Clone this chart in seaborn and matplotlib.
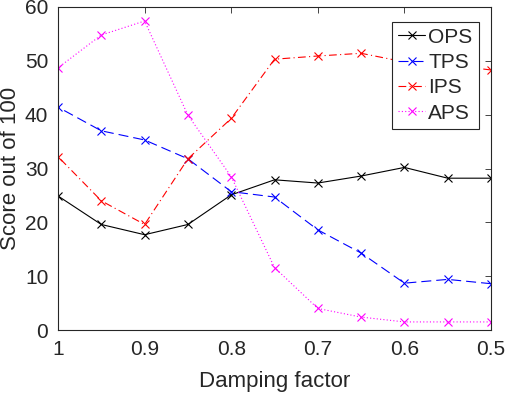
import numpy as np
import pandas as pd
import matplotlib
matplotlib.use('Agg')
import matplotlib.pyplot as plt
import seaborn as sns

damping = [1.0, 0.95, 0.9, 0.85, 0.8, 0.75, 0.7, 0.65, 0.6, 0.55, 0.5]
ops = [24.9, 19.6, 17.7, 19.6, 25.1, 27.9, 27.3, 28.6, 30.2, 28.2, 28.2]
tps = [41.4, 37.0, 35.3, 31.8, 25.7, 24.7, 18.6, 14.3, 8.7, 9.4, 8.6]
ips = [32.2, 24.0, 19.6, 31.8, 39.3, 50.3, 50.9, 51.4, 49.8, 49.3, 48.3]
aps = [48.7, 54.8, 57.4, 39.9, 28.5, 11.6, 4.0, 2.4, 1.5, 1.5, 1.5]

names = ['OPS', 'TPS', 'IPS', 'APS']
colors = ['black', 'blue', 'red', 'magenta']
styles = ['-', (0, (9, 4.5)), (0, (7, 3, 1, 3)), (0, (1, 2))]

sns.set_style('white')
plt.rcParams['font.family'] = ['Liberation Sans', 'DejaVu Sans']

fig = plt.figure(figsize=(5.06, 3.95), dpi=100)
ax = fig.add_axes([58 / 506, 65 / 395, 433 / 506, 323 / 395])

for name, vals, c, ls in zip(names, [ops, tps, ips, aps], colors, styles):
    df = pd.DataFrame({'Damping factor': damping, 'score': vals})
    sns.lineplot(data=df, x='Damping factor', y='score', ax=ax, color=c,
                 linestyle=ls, marker='x', markersize=6, markeredgewidth=0.8,
                 markeredgecolor=c, linewidth=0.8, label=name)

ax.set_xlim(1.0, 0.5)
ax.set_ylim(0, 60)
ax.set_xticks([1, 0.9, 0.8, 0.7, 0.6, 0.5])
ax.set_xticklabels(['1', '0.9', '0.8', '0.7', '0.6', '0.5'])
ax.set_yticks([0, 10, 20, 30, 40, 50, 60])
ax.tick_params(direction='in', top=True, right=True, length=4, width=0.6,
               labelsize=15, colors='#262626', pad=7)
for s in ax.spines.values():
    s.set_color('#262626')
    s.set_linewidth(0.8)
ax.set_xlabel('Damping factor', fontsize=16, color='#262626')
ax.set_ylabel('Score out of 100', fontsize=16, color='#262626')
ax.xaxis.set_label_coords(0.5, -0.128)
ax.yaxis.set_label_coords(-0.085, 0.5)

leg = ax.legend(loc='upper right', fontsize=15, frameon=True, fancybox=False,
                edgecolor='#262626', framealpha=1, borderpad=0.3,
                handlelength=1.3, handletextpad=0.15, labelspacing=0.3,
                borderaxespad=0, bbox_to_anchor=(0.972, 0.955))
leg.get_frame().set_linewidth(0.8)

fig.savefig('out.png', dpi=100)
